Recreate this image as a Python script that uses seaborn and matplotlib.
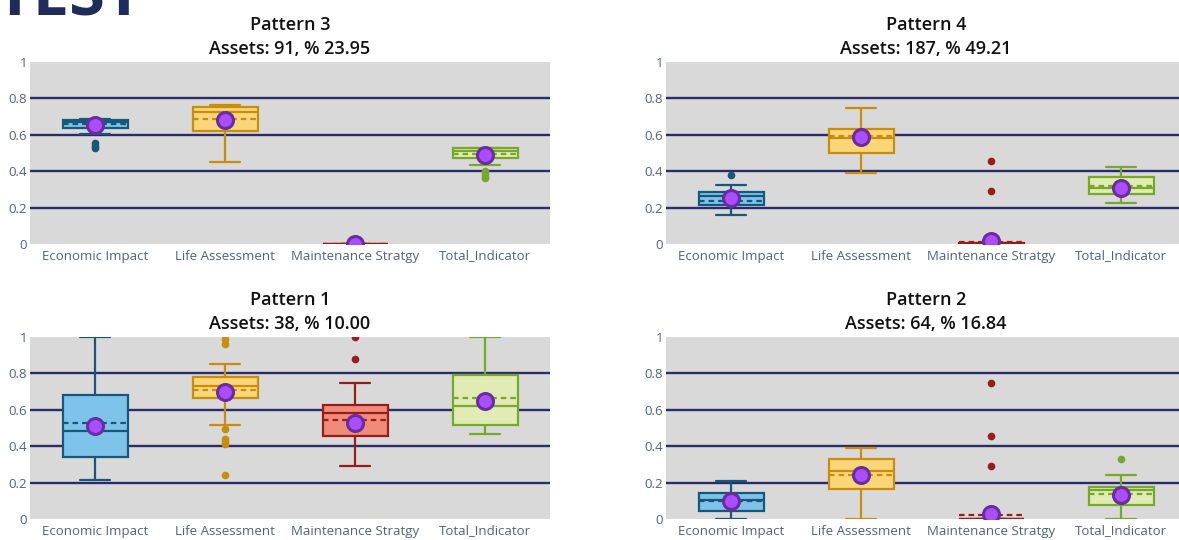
import numpy as np
import seaborn as sns
import matplotlib.pyplot as plt

# categorias e cores
categorias = ["Economic Impact", "Life Assessment", "Maintenance Stratgy", "Total_Indicator"]
cor_linha = ["#17577c", "#c88d0a", "#981c1c", "#76a82a"]
cor_caixa = ["#7ec4ea", "#fbd679", "#ef8b78", "#e1ebb6"]

# paineis (ordem: sup-esq, sup-dir, inf-esq, inf-dir)
padroes = ["Pattern 3", "Pattern 4", "Pattern 1", "Pattern 2"]
ativos = [91, 187, 38, 64]
percentuais = [23.95, 49.21, 10.00, 16.84]

# estatisticas
q1 = [[0.640, 0.622, 0.0, 0.471],
      [0.217, 0.500, 0.0, 0.276],
      [0.339, 0.667, 0.456, 0.518],
      [0.044, 0.167, 0.0, 0.075]]
mediana = [[0.668, 0.726, 0.0, 0.513],
           [0.266, 0.582, 0.0, 0.310],
           [0.482, 0.733, 0.582, 0.623],
           [0.106, 0.266, 0.0, 0.158]]
q3 = [[0.681, 0.755, 0.0, 0.526],
      [0.285, 0.631, 0.008, 0.370],
      [0.679, 0.782, 0.625, 0.793],
      [0.143, 0.331, 0.0, 0.176]]
bigode_inf = [[0.607, 0.453, 0.0, 0.436],
              [0.161, 0.390, 0.0, 0.223],
              [0.216, 0.518, 0.289, 0.465],
              [0.0, 0.0, 0.0, 0.0]]
bigode_sup = [[0.685, 0.763, 0.0, 0.529],
              [0.323, 0.746, 0.008, 0.425],
              [1.0, 0.850, 0.749, 1.0],
              [0.207, 0.390, 0.0, 0.244]]
media_linha = [[0.659, 0.686, 0.0, 0.495],
               [0.237, 0.591, 0.010, 0.318],
               [0.529, 0.707, 0.542, 0.665],
               [0.097, 0.244, 0.022, 0.136]]
media_ponto = [[0.655, 0.682, 0.0, 0.490],
               [0.252, 0.589, 0.016, 0.310],
               [0.513, 0.696, 0.527, 0.648],
               [0.100, 0.244, 0.026, 0.132]]
outliers = [[[0.555, 0.540, 0.530], [], [], [0.400, 0.385, 0.370, 0.360]],
            [[0.381], [], [0.458, 0.290], []],
            [[], [0.990, 0.960, 0.494, 0.441, 0.429, 0.414, 0.242], [1.0, 0.877], []],
            [[], [], [0.749, 0.456, 0.289], [0.331]]]

sns.set_style("white")
plt.rcParams['font.family'] = ['Open Sans', 'DejaVu Sans']

fig = plt.figure(figsize=(11.79, 5.4), dpi=100)

# posicoes dos eixos em pixels (esquerda, topo)
W, H = 1179, 540
posicoes = [(30, 62), (666, 62), (30, 337), (666, 337)]
larg, alt = 520, 182

# titulo da pagina, cortado no topo como no original
fig.text(-4 / W, 1 - 16 / H, "TEST", fontsize=47, fontweight='bold', color='#1f2b5b', va='baseline')

for p in range(4):
    esq, topo = posicoes[p]
    ax = fig.add_axes([esq / W, 1 - (topo + alt) / H, larg / W, alt / H])
    ax.set_facecolor('#d9d9d9')

    sns.stripplot(x=categorias, y=media_ponto[p], ax=ax, jitter=False, size=11.5,
                  color='#a94dff', edgecolor='#6a2c9e', linewidth=2.2, zorder=10)

    for i in range(4):
        stats = [dict(q1=q1[p][i], med=mediana[p][i], q3=q3[p][i],
                      whislo=bigode_inf[p][i], whishi=bigode_sup[p][i],
                      mean=media_linha[p][i], fliers=outliers[p][i])]
        lc = cor_linha[i]
        ax.bxp(stats, positions=[i], widths=0.5, patch_artist=True, showmeans=True,
               meanline=True, manage_ticks=False,
               boxprops=dict(facecolor=cor_caixa[i], edgecolor=lc, linewidth=1.6),
               medianprops=dict(color=lc, linewidth=1.6),
               meanprops=dict(color=lc, linewidth=1.6, linestyle=(0, (2.5, 1.8))),
               whiskerprops=dict(color=lc, linewidth=1.6),
               capprops=dict(color=lc, linewidth=1.6),
               capwidths=0.23,
               flierprops=dict(marker='o', markerfacecolor=lc, markeredgecolor=lc,
                               markersize=4.5))

    ax.set_xlim(-0.5, 3.5)
    ax.set_ylim(0, 1)
    ax.set_yticks([0, 0.2, 0.4, 0.6, 0.8, 1])
    ax.set_yticklabels(["0", "0.2", "0.4", "0.6", "0.8", "1"])
    ax.set_xticks(range(4))
    ax.set_xticklabels(categorias)
    ax.yaxis.grid(True, color='#2b2a6a', linewidth=1.7)
    ax.xaxis.grid(False)
    ax.set_axisbelow(True)
    linhas = ax.get_ygridlines()
    linhas[0].set_visible(False)
    linhas[-1].set_visible(False)
    ax.tick_params(axis='both', length=0, labelsize=9.5, labelcolor='#52627a')
    ax.tick_params(axis='y', pad=2)
    ax.tick_params(axis='x', pad=4)
    ax.set_xlabel("")
    ax.set_ylabel("")
    for s in ax.spines.values():
        s.set_visible(False)

    ax.text(0.5, 1 + (62 - 25) / alt, padroes[p], transform=ax.transAxes, ha='center',
            va='center', fontsize=13, fontweight='semibold', color='#111111')
    ax.text(0.5, 1 + (62 - 49) / alt, f"Assets: {ativos[p]}, % {percentuais[p]:.2f}",
            transform=ax.transAxes, ha='center', va='center', fontsize=13,
            fontweight='semibold', color='#111111')

plt.savefig("out.png", dpi=100)
